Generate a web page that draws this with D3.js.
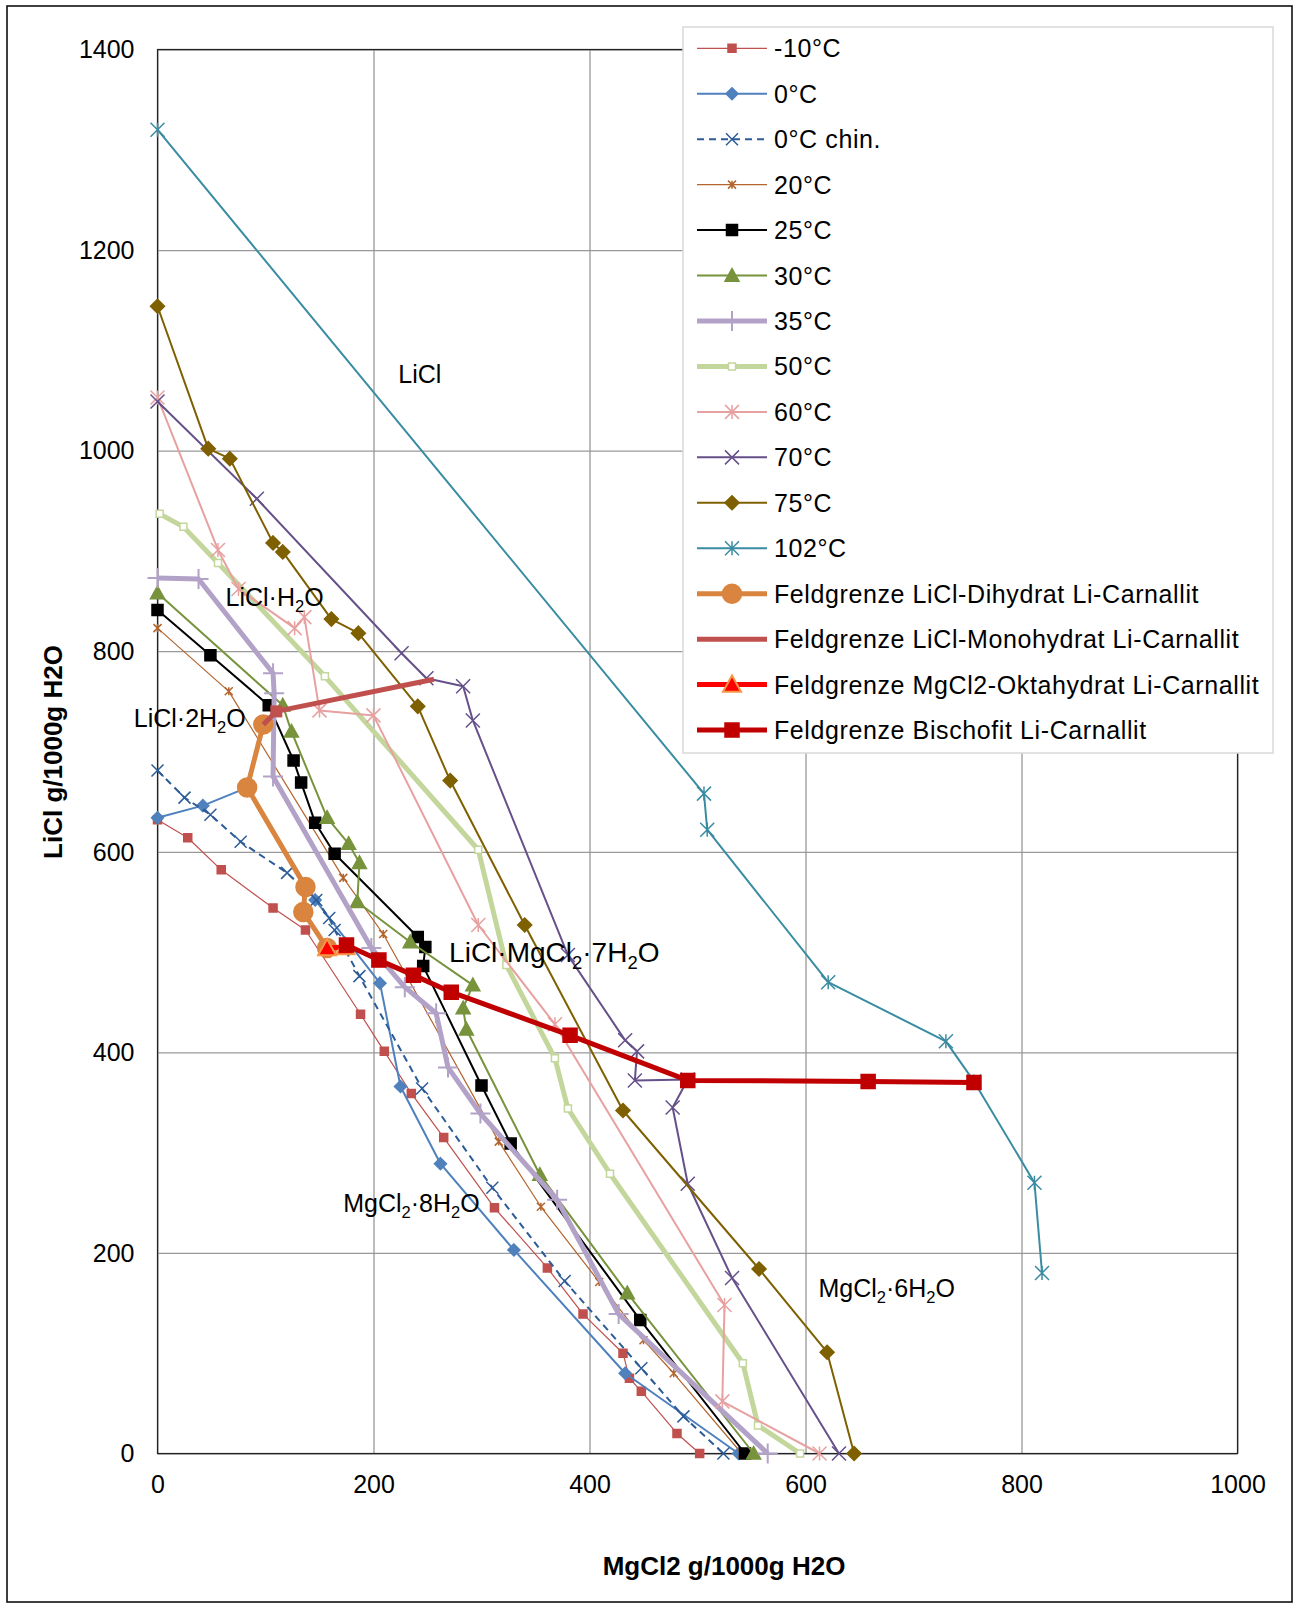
<!DOCTYPE html>
<html lang="de">
<head>
<meta charset="utf-8">
<title>LiCl - MgCl2 - H2O</title>
<script src="https://d3js.org/d3.v7.min.js"></script>
<style>
  body { margin: 0; background: #fff; }
  svg text { font-family: Arial, "Liberation Sans", sans-serif; fill: #000; }
</style>
</head>
<body>
<div id="chart"></div>
<script>
// values: [MgCl2, LiCl] in g/1000g H2O
var tMinus10 = [[0,632],[28,614],[59,582],[107,544],[137,522],[188,438],[210,401],[235,359],[265,315],[312,245],[361,185],[394,139],[431,100],[437,75],[448,62],[481,20],[502,0]]
var t0 = [[0,634],[42,646],[83,664],[146,552],[206,469],[225,366],[262,289],[330,203],[433,80],[538,0]]
var t0chin = [[0,681],[25,654],[49,637],[77,610],[120,579],[147,552],[159,534],[164,522],[187,476],[245,364],[310,265],[377,172],[448,85],[487,37],[524,0]]
var t20 = [[0,823],[66,760],[172,574],[209,518],[316,311],[355,246],[409,171],[450,113],[478,80],[541,0]]
var t25 = [[0,841],[49,796],[103,746],[126,691],[133,669],[146,629],[164,598],[241,515],[248,505],[246,486],[300,367],[327,309],[447,133],[544,0]]
var t30 = [[0,858],[116,746],[124,720],[157,634],[177,608],[187,589],[185,550],[234,510],[292,467],[283,444],[286,423],[354,278],[435,160],[552,0]]
var t35 = [[0,873],[38,872],[107,778],[108,758],[107,675],[198,504],[229,465],[258,439],[269,385],[299,339],[370,253],[427,139],[565,0]]
var t50 = [[2,937],[24,924],[56,888],[155,775],[297,602],[323,487],[368,394],[380,344],[419,279],[542,90],[556,28],[595,0]]
var t60 = [[0,1053],[56,901],[75,862],[127,823],[136,834],[150,741],[200,736],[297,527],[368,428],[525,148],[523,52],[613,0]]
var t70 = [[0,1049],[92,952],[226,798],[249,773],[283,765],[292,731],[380,497],[433,412],[444,401],[442,372],[491,373],[477,345],[491,269],[532,175],[631,0]]
var t75 = [[0,1144],[47,1002],[67,992],[107,908],[116,899],[161,832],[186,818],[241,745],[271,671],[340,527],[431,342],[557,184],[620,101],[645,0]]
var t102 = [[0,1320],[506,658],[509,622],[621,470],[730,411],[756,371],[812,270],[819,180]]
var fgDihydrat = [[98,727],[83,664],[137,565],[135,540],[157,504]]
var fgMonohydrat = [[98,727],[110,740],[256,772]]
var fgOktahydrat = [[157,504],[174,505]]
var fgBischofit = [[175,507],[205,492],[237,477],[272,460],[382,417],[491,372],[658,371],[756,370]]

var xTicks = [0,200,400,600,800,1000]
var yTicks = [0,200,400,600,800,1000,1200,1400]

// field labels: [MgCl2, LiCl] anchor, text parts (1 = subscript)
var labels = [
  {at:[223,1067], size:25, parts:[["LiCl",0]]},
  {at:[63,845], size:25, parts:[["LiCl·H",0],["2",1],["O",0]]},
  {at:[-22,724], size:25, parts:[["LiCl·2H",0],["2",1],["O",0]]},
  {at:[270,490], size:28, parts:[["LiCl·MgCl",0],["2",1],["·7H",0],["2",1],["O",0]]},
  {at:[172,241], size:25, parts:[["MgCl",0],["2",1],["·8H",0],["2",1],["O",0]]},
  {at:[612,156], size:25, parts:[["MgCl",0],["2",1],["·6H",0],["2",1],["O",0]]}
]

var series = [
  {name:"-10°C", data:tMinus10, color:"#C0504D", lw:1.2, marker:"square", ms:4},
  {name:"0°C", data:t0, color:"#4F81BD", lw:2, marker:"diamond", ms:6},
  {name:"0°C chin.", data:t0chin, color:"#2C5C97", lw:2, dash:"7,5", marker:"x", ms:6},
  {name:"20°C", data:t20, color:"#B4642C", lw:1.2, marker:"star", ms:4},
  {name:"25°C", data:t25, color:"#000000", lw:2, marker:"square", ms:5.5},
  {name:"30°C", data:t30, color:"#77933C", lw:2, marker:"triangle", ms:7},
  {name:"35°C", data:t35, color:"#B3A2C7", lw:5, marker:"plus", ms:10, mw:2},
  {name:"50°C", data:t50, color:"#C3D69B", lw:5, marker:"opensquare", ms:3.5},
  {name:"60°C", data:t60, color:"#E6A1A0", lw:2, marker:"star", ms:7},
  {name:"70°C", data:t70, color:"#65508A", lw:2, marker:"x", ms:7},
  {name:"75°C", data:t75, color:"#7F6000", lw:2, marker:"diamond", ms:7},
  {name:"102°C", data:t102, color:"#3A8CA2", lw:2, marker:"star", ms:7},
  {name:"Feldgrenze LiCl-Dihydrat Li-Carnallit", data:fgDihydrat, color:"#D9843F", lw:5, marker:"circle", ms:9.5},
  {name:"Feldgrenze LiCl-Monohydrat Li-Carnallit", data:fgMonohydrat, color:"#C0504D", lw:5, marker:"none", ms:0},
  {name:"Feldgrenze MgCl2-Oktahydrat Li-Carnallit", data:fgOktahydrat, color:"#FF0000", lw:5, marker:"triangle", ms:9, outline:"#F79646"},
  {name:"Feldgrenze Bischofit Li-Carnallit", data:fgBischofit, color:"#C00000", lw:5, marker:"square", ms:7}
]

var w = 1301, h = 1605
var svg = d3.select("#chart").append("svg").attr("width", w).attr("height", h)

svg.append("rect").attr("x", 7).attr("y", 6).attr("width", 1285).attr("height", 1596)
  .attr("fill", "#fff").attr("stroke", "#000").attr("stroke-width", 1.5)

var xScale = d3.scaleLinear().domain([0,1000]).range([157.5,1237.5])
var yScale = d3.scaleLinear().domain([0,1400]).range([1453.5,49.5])

// gridlines + tick labels
var xAxis = svg.append("g").attr("transform", "translate(0," + yScale(0) + ")")
  .call(d3.axisBottom(xScale).tickValues(xTicks).tickFormat(d3.format("d"))
    .tickSize(-(yScale(0) - yScale(1400))).tickPadding(22))
var yAxis = svg.append("g").attr("transform", "translate(" + xScale(0) + ",0)")
  .call(d3.axisLeft(yScale).tickValues(yTicks).tickFormat(d3.format("d"))
    .tickSize(-(xScale(1000) - xScale(0))).tickPadding(23))
;[xAxis, yAxis].forEach(function(a){
  a.select(".domain").remove()
  a.selectAll(".tick line").attr("stroke", "#999").attr("stroke-width", 1.3)
  a.selectAll(".tick text").attr("font-size", "25px").attr("font-family", "Arial, 'Liberation Sans', sans-serif")
})
yAxis.selectAll(".tick text").attr("dy", "0.33em")

// plot frame
svg.append("rect").attr("x", xScale(0)).attr("y", yScale(1400))
  .attr("width", xScale(1000) - xScale(0)).attr("height", yScale(0) - yScale(1400))
  .attr("fill", "none").attr("stroke", "#222").attr("stroke-width", 1.2)

function markerPath(type, s){
  switch(type){
    case "square": case "opensquare": return "M" + (-s) + "," + (-s) + "H" + s + "V" + s + "H" + (-s) + "Z"
    case "diamond": return "M0," + (-s) + "L" + s + ",0L0," + s + "L" + (-s) + ",0Z"
    case "triangle": return "M0," + (-s) + "L" + s + "," + (s*0.8) + "L" + (-s) + "," + (s*0.8) + "Z"
    case "x": return "M" + (-s) + "," + (-s) + "L" + s + "," + s + "M" + (-s) + "," + s + "L" + s + "," + (-s)
    case "star": return "M" + (-s) + "," + (-s) + "L" + s + "," + s + "M" + (-s) + "," + s + "L" + s + "," + (-s) + "M0," + (-s) + "V" + s
    case "plus": return "M" + (-s) + ",0H" + s + "M0," + (-s) + "V" + s
    case "circle": return "M" + s + ",0A" + s + "," + s + " 0 1,1 " + (-s) + ",0A" + s + "," + s + " 0 1,1 " + s + ",0Z"
  }
  return ""
}
function styleMarker(sel, d){
  var filled = ["square","diamond","triangle","circle"].indexOf(d.marker) >= 0
  sel.attr("d", markerPath(d.marker, d.ms))
    .attr("fill", filled ? d.color : (d.marker == "opensquare" ? "#fff" : "none"))
    .attr("stroke", d.outline ? d.outline : d.color)
    .attr("stroke-width", d.outline ? 2 : (d.mw || 1.5))
}

var line = d3.line().x(function(p){ return xScale(p[0]) }).y(function(p){ return yScale(p[1]) })

var plot = svg.append("g")
series.forEach(function(s){
  var g = plot.append("g")
  g.append("path").attr("d", line(s.data)).attr("fill", "none")
    .attr("stroke", s.color).attr("stroke-width", s.lw)
    .attr("stroke-linejoin", "round").attr("stroke-dasharray", s.dash || null)
  if (s.marker != "none") {
    g.selectAll(".m").data(s.data).enter().append("path")
      .attr("transform", function(p){ return "translate(" + xScale(p[0]) + "," + yScale(p[1]) + ")" })
      .each(function(){ styleMarker(d3.select(this), s) })
  }
})
// square marker at the start of the monohydrate boundary
plot.append("path").datum(fgMonohydrat[1])
  .attr("transform", function(p){ return "translate(" + xScale(p[0]) + "," + yScale(p[1]) + ")" })
  .attr("d", markerPath("square", 6)).attr("fill", "#C0504D")

// field labels
labels.forEach(function(l){
  var t = svg.append("text").attr("x", xScale(l.at[0])).attr("y", yScale(l.at[1]))
    .attr("font-size", l.size + "px")
  var low = false
  l.parts.forEach(function(p){
    var sp = t.append("tspan").text(p[0])
    if (p[1] && !low) { sp.attr("font-size", (l.size*0.66) + "px").attr("dy", l.size*0.24); low = true }
    else if (p[1]) { sp.attr("font-size", (l.size*0.66) + "px") }
    else if (low) { sp.attr("dy", -l.size*0.24); low = false }
  })
})

// axis titles
svg.append("text").attr("x", 724).attr("y", 1575).attr("text-anchor", "middle")
  .attr("font-size", "26px").attr("font-weight", "bold").text("MgCl2 g/1000g H2O")
svg.append("text").attr("transform", "translate(62,752) rotate(-90)").attr("text-anchor", "middle")
  .attr("font-size", "26px").attr("font-weight", "bold").text("LiCl g/1000g H2O")

// legend
var lg = svg.append("g")
lg.append("rect").attr("x", 683).attr("y", 27).attr("width", 590).attr("height", 726)
  .attr("fill", "#fff").attr("stroke", "#D9D9D9").attr("stroke-width", 1.5)
var rows = lg.selectAll(".row").data(series).enter().append("g")
  .attr("transform", function(d, i){ return "translate(0," + (48.3 + i*45.45) + ")" })
rows.append("line").attr("x1", 697).attr("x2", 767)
  .attr("stroke", function(d){ return d.color }).attr("stroke-width", function(d){ return d.lw })
  .attr("stroke-dasharray", function(d){ return d.dash || null })
rows.filter(function(d){ return d.marker != "none" }).append("path")
  .attr("transform", "translate(732,0)")
  .each(function(d){ styleMarker(d3.select(this), d) })
rows.append("text").attr("x", 774).attr("y", 9).attr("font-size", "25px")
  .attr("letter-spacing", "0.6px").text(function(d){ return d.name })
</script>
</body>
</html>
